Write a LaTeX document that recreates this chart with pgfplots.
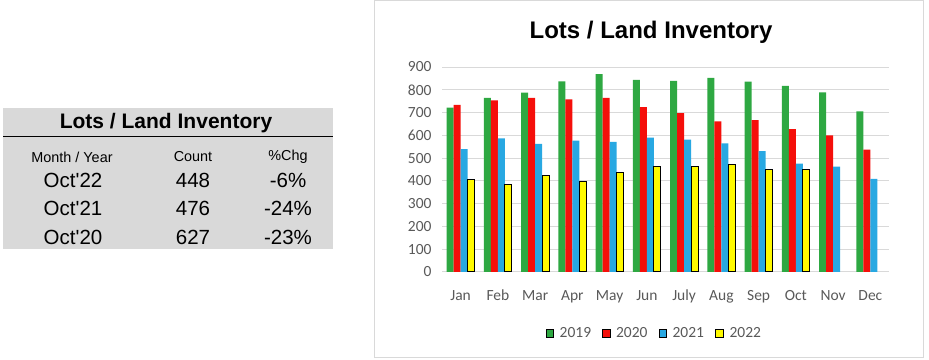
\documentclass[border=0pt]{standalone}
\usepackage{pgfplots}
\pgfplotsset{compat=1.18}
\usepackage{fontspec}
\setmainfont{Liberation Sans}
\newfontfamily\calib{Carlito}
\definecolor{g19}{RGB}{46,168,66}
\definecolor{r20}{RGB}{245,15,10}
\definecolor{b21}{RGB}{40,168,226}
\definecolor{y22}{RGB}{255,250,0}
\definecolor{tablebg}{RGB}{217,217,217}
\definecolor{gridc}{RGB}{217,217,217}
\definecolor{tickc}{RGB}{89,89,89}
\begin{document}
\begin{tikzpicture}
\useasboundingbox (0pt,0pt) rectangle (929pt,359pt);
% left table
\fill[tablebg] (3pt,110pt) rectangle (333pt,251pt);
\draw[black, line width=1pt] (3pt,222.5pt) -- (333pt,222.5pt);
\node[font=\fontsize{21}{23}\selectfont\bfseries] at (166pt,236pt) {Lots / Land Inventory};
\node[font=\fontsize{14.4}{16}\selectfont] at (72pt,202pt) {Month / Year};
\node[font=\fontsize{14.4}{16}\selectfont] at (193pt,202pt) {Count};
\node[font=\fontsize{14.4}{16}\selectfont] at (288pt,202pt) {\%Chg};
\node[font=\fontsize{20.5}{22}\selectfont] at (73pt,179pt) {Oct\textquotesingle 22};
\node[font=\fontsize{20.5}{22}\selectfont] at (193pt,179pt) {448};
\node[font=\fontsize{20.5}{22}\selectfont] at (288pt,179pt) {-6\%};
\node[font=\fontsize{20.5}{22}\selectfont] at (73pt,151pt) {Oct\textquotesingle 21};
\node[font=\fontsize{20.5}{22}\selectfont] at (193pt,151pt) {476};
\node[font=\fontsize{20.5}{22}\selectfont] at (288pt,151pt) {-24\%};
\node[font=\fontsize{20.5}{22}\selectfont] at (73pt,122pt) {Oct\textquotesingle 20};
\node[font=\fontsize{20.5}{22}\selectfont] at (193pt,122pt) {627};
\node[font=\fontsize{20.5}{22}\selectfont] at (288pt,122pt) {-23\%};
% chart panel
\draw[gridc, line width=1pt] (374.5pt,1.5pt) rectangle (923.5pt,358.5pt);
\node[font=\fontsize{24}{26}\selectfont\bfseries] at (651pt,327pt) {Lots / Land Inventory};
\begin{axis}[
  at={(442pt,87pt)}, anchor=south west,
  scale only axis, width=447pt, height=205pt,
  ybar=0pt, bar width=7pt,
  ymin=0, ymax=900, xmin=-0.5, xmax=11.5,
  xtick={0,...,11},
  xticklabels={Jan,Feb,Mar,Apr,May,Jun,July,Aug,Sep,Oct,Nov,Dec},
  ytick={0,100,...,900},
  ymajorgrids, grid style={draw=gridc, line width=1pt},
  axis line style={draw=none},
  major tick length=0pt,
  tick label style={font=\calib\fontsize{15.5}{17}\selectfont, text=tickc},
  /pgf/number format/assume math mode=true,
  yticklabel style={xshift=-7pt},
  xticklabel style={anchor=base, yshift=-28pt},
  legend style={at={(0.475,-0.30)}, anchor=center, draw=none, fill=none,
    legend columns=4, font=\calib\fontsize{15.5}{17}\selectfont, text=tickc,
    /tikz/every odd column/.append style={column sep=4pt},
    /tikz/every even column/.append style={column sep=9pt},
    inner sep=0pt},
  legend image code/.code={\draw[#1] (0pt,-3.8pt) rectangle (7.6pt,3.8pt);},
]
\addplot[fill=g19, draw=none] coordinates {(0,722) (1,764) (2,787) (3,837) (4,869) (5,844) (6,839) (7,852) (8,836) (9,817) (10,789) (11,705)};
\addplot[fill=r20, draw=none] coordinates {(0,734) (1,753) (2,764) (3,758) (4,764) (5,724) (6,697) (7,661) (8,667) (9,627) (10,600) (11,537)};
\addplot[fill=b21, draw=none] coordinates {(0,540) (1,587) (2,562) (3,577) (4,571) (5,590) (6,581) (7,565) (8,531) (9,476) (10,463) (11,409)};
\addplot[fill=y22, draw=black, line width=1pt] coordinates {(0,404) (1,385) (2,423) (3,399) (4,436) (5,465) (6,464) (7,470) (8,451) (9,448)};
\legend{2019,2020,2021,2022}
\end{axis}
\end{tikzpicture}
\end{document}
